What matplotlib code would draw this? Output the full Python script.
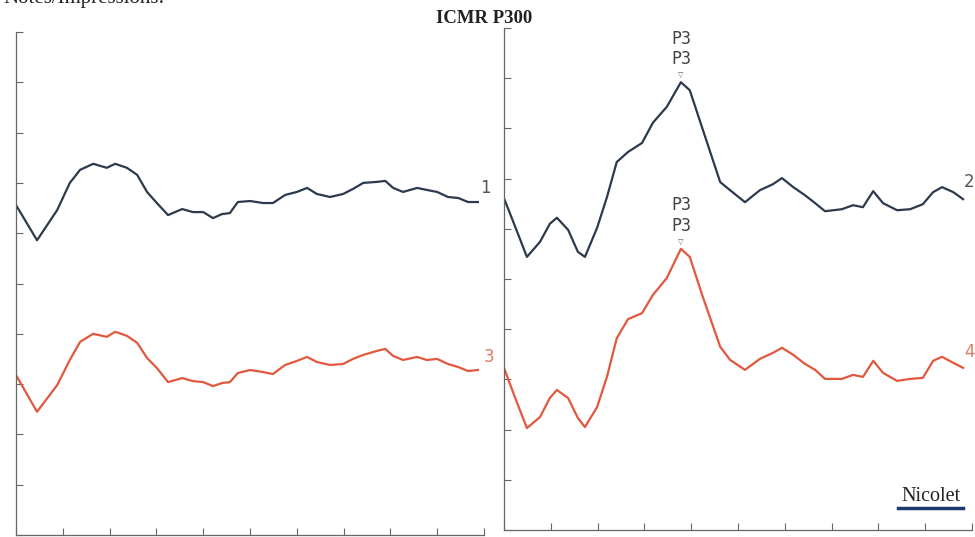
import numpy as np
import matplotlib
matplotlib.use("Agg")
import matplotlib.pyplot as plt

# time axis in ms, amplitude in screen divisions
left_t = [0, 45, 88, 115, 137, 165, 194, 212, 237, 259, 280, 301, 325, 355, 378, 400, 421,
          440, 457, 474, 500, 528, 549, 575, 600, 622, 643, 671, 699, 720, 742, 771, 789, 806,
          827, 857, 878, 900, 923, 945, 966, 987]
trace1 = [6.56, 5.86, 6.46, 7.00, 7.26, 7.38, 7.30, 7.38, 7.30, 7.16, 6.82, 6.60, 6.36, 6.48,
          6.42, 6.42, 6.30, 6.38, 6.40, 6.62, 6.64, 6.60, 6.60, 6.76, 6.82, 6.90, 6.78, 6.72,
          6.78, 6.88, 7.00, 7.02, 7.04, 6.90, 6.82, 6.90, 6.86, 6.82, 6.72, 6.70, 6.62, 6.62]
trace3 = [3.18, 2.45, 2.98, 3.48, 3.84, 4.00, 3.94, 4.04, 3.96, 3.82, 3.52, 3.32, 3.04, 3.12,
          3.06, 3.04, 2.96, 3.02, 3.04, 3.22, 3.28, 3.24, 3.20, 3.38, 3.46, 3.54, 3.44, 3.38,
          3.40, 3.50, 3.58, 3.66, 3.70, 3.56, 3.48, 3.54, 3.48, 3.50, 3.40, 3.34, 3.26, 3.28]

right_t = [0, 24, 49, 77, 98, 113, 137, 158, 173, 199, 220, 241, 265, 295, 318, 348, 378, 397,
           425, 462, 483, 515, 547, 575, 594, 618, 643, 665, 686, 722, 746, 767, 789, 810, 840,
           868, 895, 917, 936, 960, 981]
trace2 = [6.61, 6.04, 5.44, 5.74, 6.10, 6.22, 5.98, 5.54, 5.44, 6.02, 6.63, 7.33, 7.53, 7.71,
          8.11, 8.43, 8.92, 8.76, 7.97, 6.93, 6.77, 6.53, 6.77, 6.89, 7.01, 6.83, 6.67, 6.51,
          6.35, 6.39, 6.47, 6.43, 6.75, 6.51, 6.37, 6.39, 6.49, 6.73, 6.83, 6.73, 6.59]
trace4 = [3.23, 2.63, 2.03, 2.25, 2.63, 2.79, 2.63, 2.23, 2.05, 2.45, 3.05, 3.82, 4.20, 4.32,
          4.68, 5.02, 5.60, 5.44, 4.64, 3.65, 3.39, 3.19, 3.41, 3.53, 3.63, 3.49, 3.31, 3.19,
          3.01, 3.01, 3.09, 3.05, 3.37, 3.13, 2.97, 3.01, 3.03, 3.37, 3.45, 3.33, 3.23]

p3_idx = 16  # P3 peak sample in right panel

dark = "#2c3a4c"
red = "#e2583e"
axis_col = "#666666"

fig = plt.figure(figsize=(9.75, 5.37), dpi=100)
fig.patch.set_facecolor("white")

ax1 = fig.add_axes([0.0164, 0.0037, 0.48, 0.9367])
ax2 = fig.add_axes([0.5169, 0.013, 0.48, 0.9349])

for ax in (ax1, ax2):
    ax.set_xlim(0, 1000)
    ax.set_ylim(0, 10)
    ax.set_xticks(np.arange(0, 1001, 100))
    ax.set_yticks(np.arange(0, 11, 1))
    ax.tick_params(direction="in", length=5, width=0.8, color=axis_col,
                   labelbottom=False, labelleft=False)
    for s in ("top", "right"):
        ax.spines[s].set_visible(False)
    for s in ("left", "bottom"):
        ax.spines[s].set_color(axis_col)
        ax.spines[s].set_linewidth(0.9)
    ax.patch.set_alpha(0)

ax1.plot(left_t, trace1, color=dark, lw=1.6, solid_joinstyle="round")
ax1.plot(left_t, trace3, color=red, lw=1.6, solid_joinstyle="round")
ax2.plot(right_t, trace2, color=dark, lw=1.6, solid_joinstyle="round")
ax2.plot(right_t, trace4, color=red, lw=1.6, solid_joinstyle="round")

ax1.text(992, 6.9, "1", color="#555555", fontsize=12, va="center", ha="left", clip_on=False)
ax1.text(1000, 3.54, "3", color="#e07a66", fontsize=12, va="center", ha="left", clip_on=False)
ax2.text(983, 6.93, "2", color="#555555", fontsize=12, va="center", ha="left", clip_on=False)
ax2.text(983, 3.55, "4", color="#e07a66", fontsize=12, va="center", ha="left", clip_on=False)

for tr in (trace2, trace4):
    x, y = right_t[p3_idx], tr[p3_idx]
    ax2.annotate("▽", (x, y), xytext=(0, 3), textcoords="offset points",
                 ha="center", va="bottom", fontsize=5, color="#555555")
    ax2.annotate("P3\nP3", (x, y), xytext=(0, 10), textcoords="offset points",
                 ha="center", va="bottom", fontsize=12, color="#444444",
                 family="DejaVu Sans Mono", linespacing=1.2)

fig.text(0.497, 0.966, "ICMR P300", ha="center", va="center", fontsize=13.5,
         fontweight="bold", family="Liberation Serif", color="#222222")
fig.text(0.003, 1.002, "Notes/Impressions:", ha="left", va="center", fontsize=15,
         family="Liberation Serif", color="#222222")
fig.text(0.955, 0.0745, "Nicolet", ha="center", va="center", fontsize=14.5,
         family="Liberation Serif", color="#222222")
fig.add_artist(plt.Line2D([0.921, 0.988], [0.054, 0.054], color="#1d3a6e", lw=2.5))

fig.savefig("out.png", dpi=100, facecolor="white")
